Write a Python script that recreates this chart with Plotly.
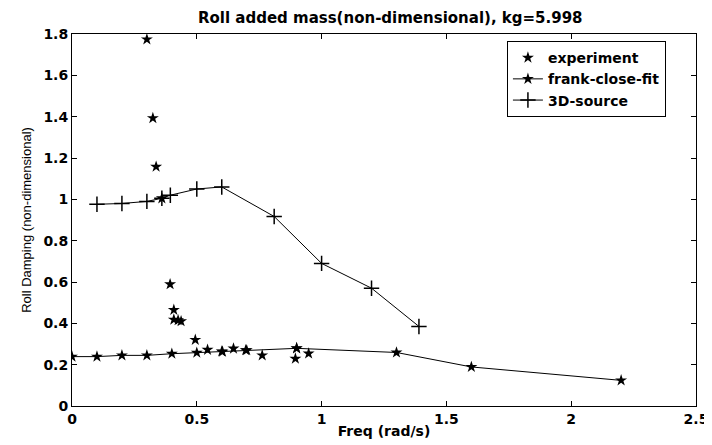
import plotly.graph_objects as go

# experiment data
exp_x = [0.30, 0.324, 0.337, 0.36, 0.393, 0.408, 0.408, 0.425, 0.437, 0.494, 0.543, 0.603, 0.647, 0.696, 0.762, 0.90, 0.895, 0.948]
exp_y = [1.774, 1.393, 1.158, 1.005, 0.589, 0.465, 0.418, 0.415, 0.41, 0.32, 0.272, 0.263, 0.278, 0.27, 0.245, 0.28, 0.229, 0.254]

# frank-close-fit
fr_x = [0.0, 0.1, 0.2, 0.3, 0.4, 0.5, 0.6, 0.7, 0.9, 1.3, 1.6, 2.2]
fr_y = [0.239, 0.239, 0.245, 0.245, 0.253, 0.258, 0.264, 0.27, 0.279, 0.259, 0.189, 0.124]

# 3D-source
s3_x = [0.1, 0.2, 0.3, 0.36, 0.394, 0.5, 0.6, 0.81, 1.0, 1.2, 1.39]
s3_y = [0.976, 0.98, 0.99, 1.005, 1.02, 1.05, 1.06, 0.917, 0.69, 0.57, 0.385]

FONT = "DejaVu Sans, Liberation Sans, Arial"

fig = go.Figure()
fig.add_trace(go.Scatter(x=exp_x, y=exp_y, mode="markers", name="experiment",
                         marker=dict(symbol="star", size=9, color="black")))
fig.add_trace(go.Scatter(x=fr_x, y=fr_y, mode="lines+markers", name="frank-close-fit",
                         line=dict(color="black", width=1),
                         marker=dict(symbol="star", size=9, color="black")))
fig.add_trace(go.Scatter(x=s3_x, y=s3_y, mode="lines+markers", name="3D-source",
                         line=dict(color="black", width=1),
                         marker=dict(symbol="cross-thin", size=11, line=dict(color="black", width=1.5))))

axis_common = dict(showline=True, linecolor="black", linewidth=1, mirror="ticks",
                   ticks="inside", ticklen=5, tickcolor="black", showgrid=False, zeroline=False,
                   tickfont=dict(family=FONT, size=14, color="black", weight="bold"))

fig.update_layout(
    width=712, height=445,
    margin=dict(l=64, r=15, t=26, b=47),
    paper_bgcolor="white", plot_bgcolor="white",
    title=dict(text="Roll added mass(non-dimensional), kg=5.998", x=0.51, xref="paper",
               xanchor="center", y=0.99, yanchor="top",
               font=dict(family=FONT, size=15, color="black", weight="bold")),
    xaxis=dict(range=[0, 2.5], dtick=0.5,
               title=dict(text="Freq (rad/s)", standoff=0,
                          font=dict(family=FONT, size=14, color="black", weight="bold")),
               **axis_common),
    yaxis=dict(range=[0, 1.8], dtick=0.2,
               title=dict(text="Roll Damping (non-dimensional)", standoff=8,
                          font=dict(family="Liberation Sans, Arial", size=13, color="black")),
               **axis_common),
    legend=dict(x=0.697, y=0.981, xanchor="left", yanchor="top",
                bordercolor="black", borderwidth=1, bgcolor="white",
                font=dict(family=FONT, size=14, color="black", weight="bold"),
                tracegroupgap=0, entrywidth=140, entrywidthmode="pixels"),
    showlegend=True,
)

fig.write_html("out.html")
